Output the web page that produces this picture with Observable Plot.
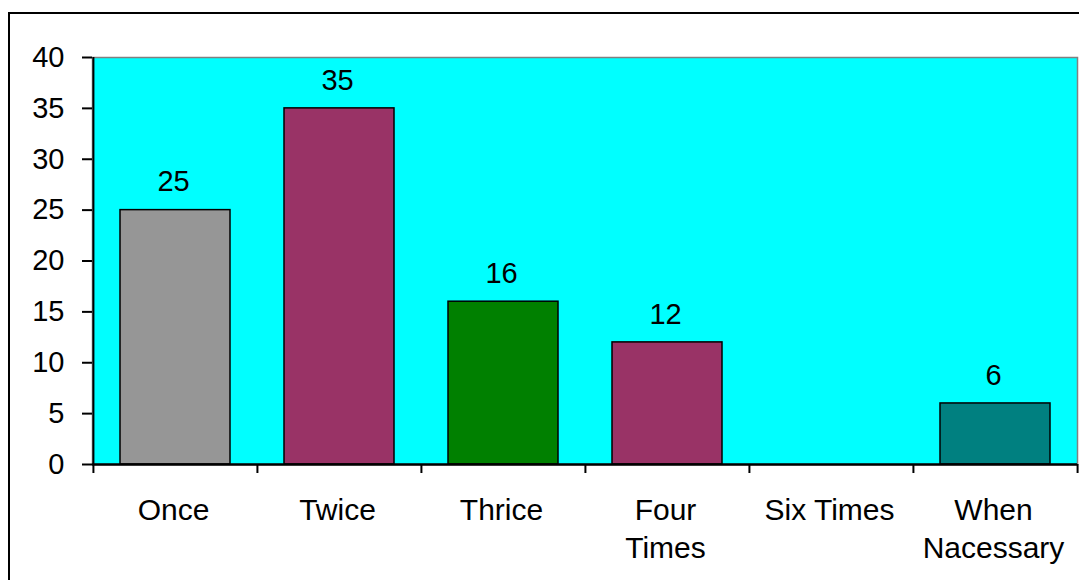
<!DOCTYPE html>
<html><head><meta charset="utf-8">
<script src="https://cdn.jsdelivr.net/npm/d3@7"></script>
<script src="https://cdn.jsdelivr.net/npm/@observablehq/plot@0.6"></script>
<style>
body{margin:0;background:#fff;overflow:hidden;font-family:"Liberation Sans",Arial,sans-serif;}
#wrap{position:relative;width:1079px;height:580px;overflow:hidden;}
#border{position:absolute;left:8px;top:12px;width:1100px;height:620px;border:2px solid #000;box-sizing:border-box;pointer-events:none;}
#chart{position:absolute;left:0;top:0;}
</style></head>
<body><div id="wrap"><div id="border"></div><div id="chart"></div></div>
<script>
const categories = ["Once", "Twice", "Thrice", "Four Times", "Six Times", "When Nacessary"];
const tickLabels = ["Once", "Twice", "Thrice", "Four\nTimes", "Six Times", "When\nNacessary"];
const values = [25, 35, 16, 12, null, 6];
const colors = ["#969696", "#993366", "#008000", "#993366", "#993366", "#008080"];
const yTicks = [0, 5, 10, 15, 20, 25, 30, 35, 40];

const data = categories.map((c, i) => ({cat: c, value: values[i], color: colors[i]})).filter(d => d.value != null);

const W = 1079, H = 580, mL = 92, mR = 2, mT = 57, mB = 116;
const step = (W - mL - mR) / categories.length;
const labelOf = new Map(categories.map((c, i) => [c, tickLabels[i]]));

const plot = Plot.plot({
  width: W, height: H,
  marginLeft: mL, marginRight: mR, marginTop: mT, marginBottom: mB,
  style: {fontFamily: '"Liberation Sans", Arial, sans-serif', fontSize: "29px", color: "#000", background: "transparent"},
  x: {domain: categories, paddingInner: 0.33, paddingOuter: 0.165, label: null},
  y: {domain: [0, 40], label: null},
  marks: [
    Plot.frame({fill: "#00FFFF", stroke: "#808080", strokeWidth: 1.5}),
    Plot.barY(data, {x: "cat", y: "value", fill: "color", stroke: "#000", strokeWidth: 1.5}),
    Plot.text(data, {x: "cat", y: "value", text: d => String(d.value), dy: -28, dx: -2, fill: "#000", fontSize: 29}),
    Plot.axisY({ticks: yTicks, tickSize: 10, tickPadding: 18, tickFormat: d => String(d), strokeWidth: 2, fontSize: 29}),
    Plot.axisX({tickSize: 0, tickPadding: 28, tickFormat: d => labelOf.get(d), lineHeight: 1.27, fontSize: 30, dx: -2}),
    // boundary ticks below the x axis
    Plot.ruleX(categories, {x: d => d, y1: 0, y2: 0, insetBottom: -9, dx: -step / 2, stroke: "#000", strokeWidth: 2}),
    Plot.ruleX(categories.slice(-1), {x: d => d, y1: 0, y2: 0, insetBottom: -9, dx: step / 2, stroke: "#000", strokeWidth: 2}),
    // y axis line
    Plot.ruleX(categories.slice(0, 1), {x: d => d, y1: 0, y2: 40, dx: -step / 2, stroke: "#000", strokeWidth: 2}),
    // x axis line
    Plot.ruleY([0], {stroke: "#000", strokeWidth: 2.5})
  ]
});
document.getElementById("chart").appendChild(plot);
</script></body></html>
